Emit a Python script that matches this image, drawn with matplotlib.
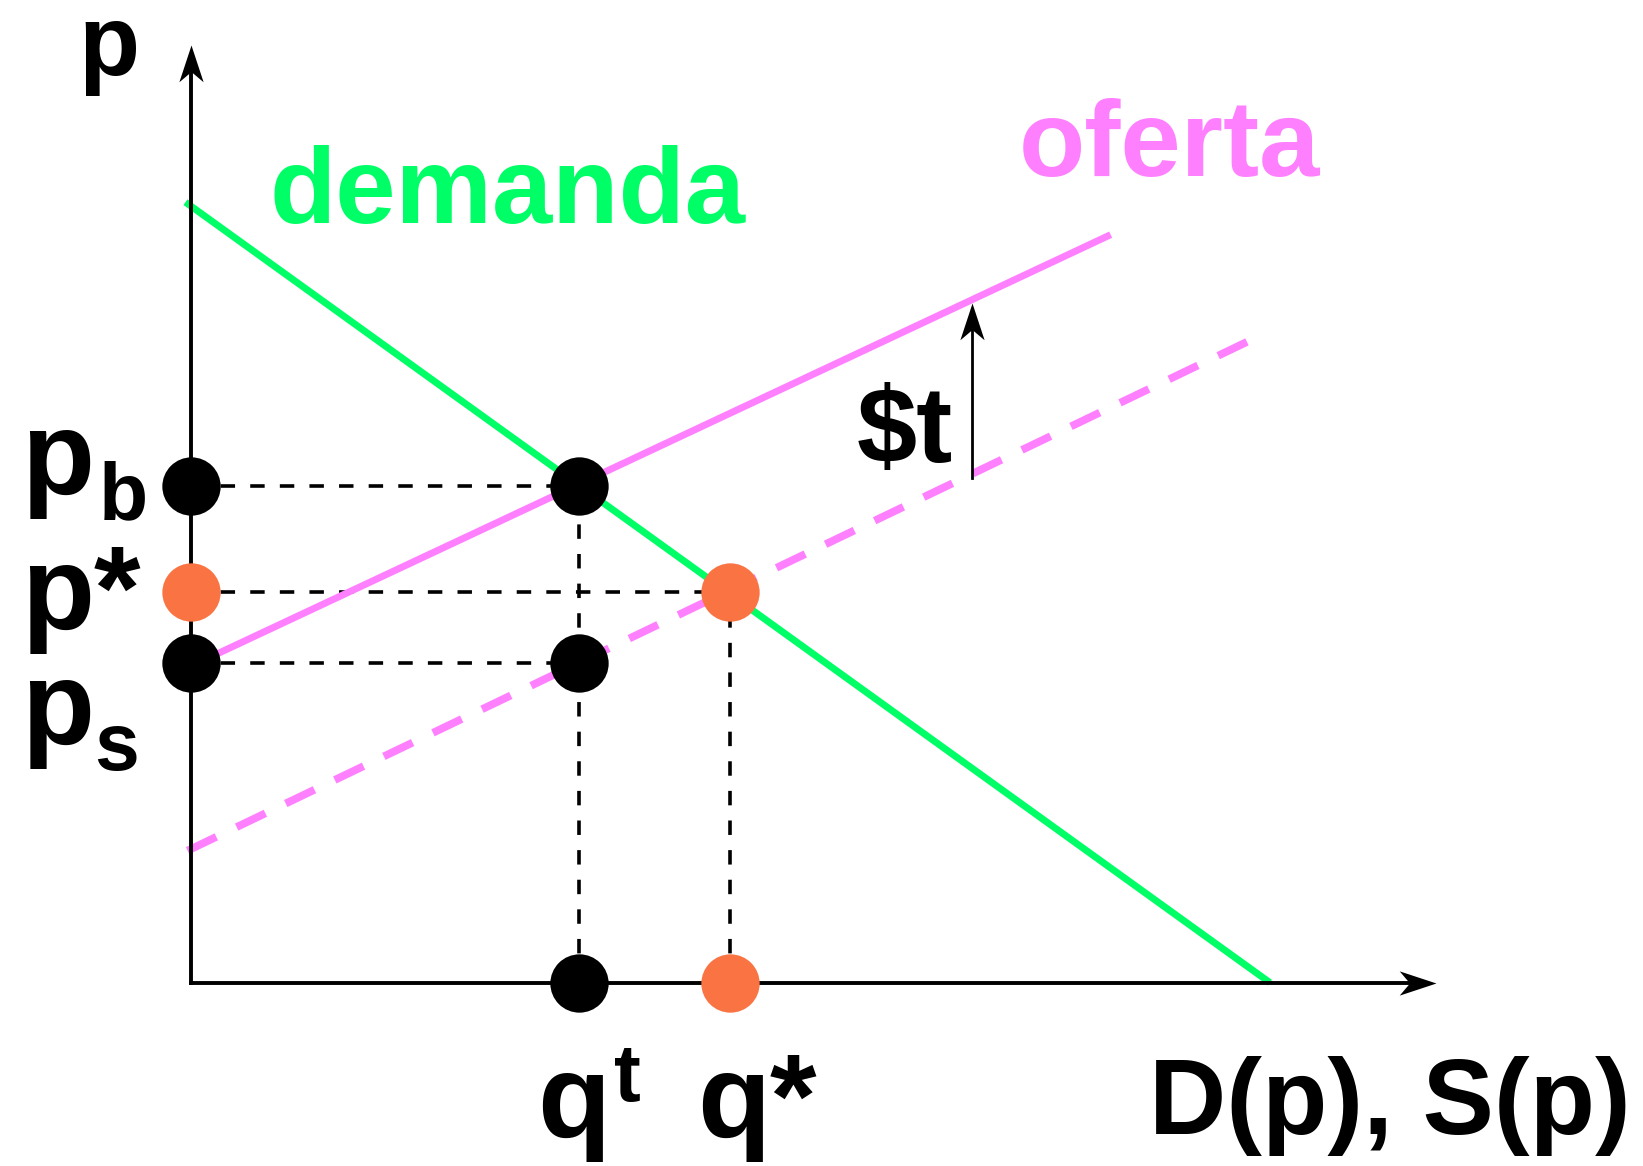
"""Tax incidence diagram: demand, supply with and without tax."""
import matplotlib
matplotlib.use("Agg")
import matplotlib.pyplot as plt
from matplotlib.markers import MarkerStyle
from matplotlib.path import Path
from matplotlib.transforms import Affine2D

# --- values (quantity, price units) ---
demand_q = [-0.05, 10.30]
demand_p = [7.45, 0.0]
supply_q = [0.0, 8.78]          # "oferta" (solid)
supply_p = [3.02, 7.14]
supply_dash_q = [-0.03, 10.15]  # shifted supply (dashed)
supply_dash_p = [1.26, 6.15]

p_b, p_star, p_s = 4.74, 3.73, 3.05
q_t, q_star = 3.71, 5.15
tax_x, tax_low, tax_high = 7.46, 4.82, 6.49

x_axis_end, y_axis_end = 11.88, 8.95

GREEN = "#00ff66"
PINK = "#ff80ff"
ORANGE = "#f97442"
REG = ["Liberation Sans", "DejaVu Sans"]

fig = plt.figure(figsize=(16.43, 11.66), dpi=100)
ax = fig.add_axes([0, 0, 1, 1])
ax.set_xlim(-1.82, 13.86)
ax.set_ylim(-1.75, 9.38)
ax.axis("off")

# arrow head marker, tip at origin, pointing +x
head = Path(
    [(0, 0), (-1, 0.33), (-0.72, 0), (-1, -0.33), (0, 0)],
    [Path.MOVETO, Path.LINETO, Path.LINETO, Path.LINETO, Path.CLOSEPOLY],
)
head_right = MarkerStyle(head)
head_up = MarkerStyle(head, transform=Affine2D().rotate_deg(90))

# axes
ax.plot([0, x_axis_end - 0.2], [0, 0], color="black", lw=2.8, zorder=4)
ax.plot([0, 0], [0, y_axis_end - 0.2], color="black", lw=2.8, zorder=4)
ax.plot(x_axis_end, 0, marker=head_right, ms=53, color="black", mew=0, zorder=4)
ax.plot(0, y_axis_end, marker=head_up, ms=53, color="black", mew=0, zorder=4)

# guide lines
dash_kw = dict(color="black", lw=2.6, dashes=(4.0, 4.2), zorder=1)
ax.plot([0, q_t], [p_b, p_b], **dash_kw)
ax.plot([0, q_star], [p_star, p_star], **dash_kw)
ax.plot([0, q_t], [p_s, p_s], **dash_kw)
ax.plot([q_t, q_t], [0, p_b], **dash_kw)
ax.plot([q_star, q_star], [0, p_star], **dash_kw)

# curves
ax.plot(supply_dash_q, supply_dash_p, color=PINK, lw=5.6, dashes=(4.1, 2.9),
        solid_capstyle="butt", zorder=2)
ax.plot(supply_q, supply_p, color=PINK, lw=5.0, solid_capstyle="butt", zorder=2)
ax.plot(demand_q, demand_p, color=GREEN, lw=5.0, solid_capstyle="butt", zorder=3)

# tax arrow
ax.plot([tax_x, tax_x], [tax_low, tax_high - 0.2], color="black", lw=2.0, zorder=4)
ax.plot(tax_x, tax_high, marker=head_up, ms=53, color="black", mew=0, zorder=4)

# points
black_pts = [(0, p_b), (q_t, p_b), (0, p_s), (q_t, p_s), (q_t, 0)]
orange_pts = [(0, p_star), (q_star, p_star), (q_star, 0)]
for x, y in black_pts:
    ax.plot(x, y, "o", ms=42, color="black", mew=0, zorder=5)
for x, y in orange_pts:
    ax.plot(x, y, "o", ms=42, color=ORANGE, mew=0, zorder=5)

# labels
big = dict(fontweight="bold", va="baseline", ha="left", family=REG)
ax.text(-1.07, 8.66, "p", fontsize=72, **big)
ax.text(0.75, 7.25, "demanda", fontsize=78, color=GREEN, **big)
ax.text(7.90, 7.70, "oferta", fontsize=78, color=PINK, **big)
ax.text(7.27, 4.97, "$t", fontsize=78, family=REG,
        fontweight="bold", va="baseline", ha="right")
ax.text(9.15, -1.44, "D(p), S(p)", fontsize=77, **big)

ax.text(-1.62, 4.66, "p", fontsize=86, **big)
ax.text(-0.88, 4.42, "b", fontsize=58, **big)
ax.text(-1.62, 3.38, "p*", fontsize=86, **big)
ax.text(-1.62, 2.28, "p", fontsize=86, **big)
ax.text(-0.92, 2.03, "s", fontsize=58, **big)
ax.text(3.31, -1.47, "q", fontsize=86, **big)
ax.text(4.04, -1.13, "t", fontsize=58, **big)
ax.text(4.83, -1.47, "q*", fontsize=86, **big)

fig.savefig("out.png", dpi=100)
